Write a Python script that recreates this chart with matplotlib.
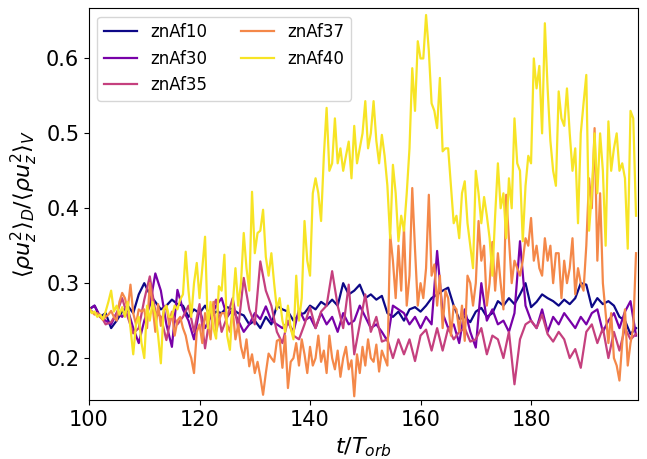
import numpy as np
import matplotlib
matplotlib.use("Agg")
import matplotlib.pyplot as plt

# time grids (fine for the two noisy runs, coarse for the others)
t_fine = np.arange(100, 199.01, 0.5)
t_coarse = np.arange(100, 199.01, 1.0)

znAf10 = [0.265, 0.27, 0.255, 0.26, 0.24, 0.25, 0.262, 0.27, 0.26, 0.285,
          0.3, 0.285, 0.275, 0.265, 0.27, 0.278, 0.272, 0.27, 0.255, 0.265,
          0.26, 0.27, 0.255, 0.262, 0.26, 0.268, 0.265, 0.26, 0.257, 0.245,
          0.25, 0.24, 0.255, 0.245, 0.27, 0.265, 0.262, 0.25, 0.258, 0.26,
          0.27, 0.265, 0.275, 0.27, 0.278, 0.27, 0.3, 0.285, 0.29, 0.298,
          0.28, 0.285, 0.278, 0.283, 0.26, 0.255, 0.262, 0.25, 0.265, 0.268,
          0.262, 0.27, 0.28, 0.285, 0.29, 0.294, 0.27, 0.252, 0.255, 0.248,
          0.262, 0.267, 0.255, 0.26, 0.276, 0.27, 0.28, 0.272, 0.285, 0.3,
          0.268, 0.275, 0.285, 0.28, 0.276, 0.27, 0.278, 0.272, 0.28, 0.3,
          0.298, 0.268, 0.28, 0.272, 0.276, 0.27, 0.255, 0.25, 0.232, 0.24]

znAf30 = [0.265, 0.27, 0.255, 0.25, 0.245, 0.26, 0.255, 0.265, 0.24, 0.22,
          0.25, 0.27, 0.313, 0.29, 0.245, 0.215, 0.291, 0.265, 0.25, 0.225,
          0.265, 0.24, 0.255, 0.27, 0.28, 0.255, 0.265, 0.25, 0.235, 0.245,
          0.26, 0.252, 0.269, 0.25, 0.245, 0.24, 0.248, 0.235, 0.265, 0.25,
          0.255, 0.24, 0.26, 0.245, 0.255, 0.235, 0.26, 0.245, 0.25, 0.27,
          0.255, 0.24, 0.245, 0.235, 0.223, 0.27, 0.265, 0.26, 0.245, 0.255,
          0.24, 0.255, 0.245, 0.343, 0.26, 0.24, 0.245, 0.22, 0.265, 0.235,
          0.214, 0.3, 0.25, 0.265, 0.245, 0.25, 0.235, 0.26, 0.356, 0.27,
          0.25, 0.24, 0.265, 0.235, 0.255, 0.245, 0.26, 0.25, 0.24, 0.255,
          0.245, 0.26, 0.265, 0.235, 0.25, 0.26, 0.24, 0.262, 0.276, 0.23]

znAf35 = [0.265, 0.26, 0.258, 0.245, 0.248, 0.26, 0.28, 0.255, 0.233, 0.24,
          0.278, 0.309, 0.262, 0.255, 0.224, 0.26, 0.245, 0.255, 0.27, 0.235,
          0.272, 0.213, 0.262, 0.278, 0.235, 0.255, 0.28, 0.24, 0.307, 0.265,
          0.245, 0.329, 0.29, 0.27, 0.235, 0.22, 0.25, 0.23, 0.225, 0.245,
          0.268, 0.24, 0.262, 0.27, 0.316, 0.27, 0.24, 0.298, 0.205, 0.245,
          0.285, 0.235, 0.255, 0.222, 0.225, 0.2, 0.225, 0.205, 0.225, 0.196,
          0.23, 0.238, 0.21, 0.24, 0.21, 0.24, 0.225, 0.235, 0.24, 0.222,
          0.225, 0.24, 0.205, 0.23, 0.225, 0.2, 0.235, 0.165, 0.225, 0.245,
          0.25, 0.24, 0.258, 0.232, 0.222, 0.235, 0.225, 0.2, 0.212, 0.187,
          0.235, 0.245, 0.22, 0.24, 0.2, 0.235, 0.21, 0.24, 0.225, 0.232]

znAf37 = [0.264, 0.262, 0.258, 0.26, 0.255, 0.251, 0.255, 0.258, 0.263, 0.255,
          0.25, 0.275, 0.287, 0.28, 0.265, 0.298, 0.26, 0.245, 0.265, 0.262,
          0.265, 0.24, 0.3, 0.27, 0.235, 0.272, 0.243, 0.262, 0.27, 0.245,
          0.262, 0.23, 0.25, 0.255, 0.24, 0.23, 0.211, 0.2, 0.18, 0.235,
          0.245, 0.22, 0.26, 0.245, 0.225, 0.275, 0.235, 0.25, 0.26, 0.26,
          0.245, 0.235, 0.265, 0.225, 0.245, 0.215, 0.2, 0.225, 0.189, 0.205,
          0.18, 0.195, 0.175, 0.151, 0.18, 0.206, 0.2, 0.195, 0.223, 0.225,
          0.187, 0.23, 0.16, 0.195, 0.2, 0.22, 0.19, 0.225, 0.205, 0.18,
          0.215, 0.19, 0.2, 0.23, 0.195, 0.21, 0.18, 0.23, 0.2, 0.185,
          0.21, 0.175, 0.2, 0.215, 0.185, 0.197, 0.149, 0.205, 0.18, 0.215,
          0.19, 0.225, 0.2, 0.195, 0.218, 0.182, 0.21, 0.2, 0.19, 0.365,
          0.33, 0.28, 0.35, 0.29, 0.374, 0.27, 0.31, 0.427, 0.345, 0.27,
          0.3, 0.28, 0.32, 0.418, 0.31, 0.325, 0.27, 0.31, 0.24, 0.29,
          0.28, 0.23, 0.27, 0.265, 0.235, 0.27, 0.223, 0.31, 0.3, 0.27,
          0.3, 0.383, 0.33, 0.35, 0.27, 0.3, 0.355, 0.29, 0.34, 0.3,
          0.265, 0.418, 0.36, 0.3, 0.33, 0.32, 0.31, 0.33, 0.36, 0.35,
          0.387, 0.33, 0.35, 0.32, 0.31, 0.36, 0.33, 0.35, 0.3, 0.34,
          0.34, 0.28, 0.33, 0.3, 0.32, 0.36, 0.285, 0.32, 0.3, 0.29,
          0.35, 0.44, 0.4, 0.507, 0.33, 0.42, 0.3, 0.26, 0.22, 0.26,
          0.2, 0.19, 0.17, 0.22, 0.265, 0.19, 0.22, 0.24, 0.34]

znAf40 = [0.267, 0.26, 0.262, 0.255, 0.258, 0.252, 0.262, 0.275, 0.29, 0.262,
          0.27, 0.258, 0.268, 0.255, 0.275, 0.24, 0.205, 0.245, 0.255, 0.22,
          0.2, 0.27, 0.25, 0.275, 0.258, 0.23, 0.193, 0.265, 0.27, 0.255,
          0.255, 0.27, 0.265, 0.278, 0.285, 0.342, 0.29, 0.255, 0.3, 0.327,
          0.28, 0.32, 0.362, 0.24, 0.275, 0.24, 0.226, 0.296, 0.29, 0.338,
          0.23, 0.211, 0.27, 0.32, 0.27, 0.3, 0.367, 0.32, 0.29, 0.422,
          0.34, 0.367, 0.37, 0.398, 0.335, 0.31, 0.34, 0.3, 0.265, 0.28,
          0.25, 0.235, 0.27, 0.24, 0.225, 0.31, 0.25, 0.28, 0.383, 0.33,
          0.31, 0.42, 0.44, 0.42, 0.383, 0.47, 0.534, 0.45, 0.46, 0.52,
          0.46, 0.48, 0.45, 0.47, 0.489, 0.44, 0.51, 0.46, 0.48, 0.5,
          0.543, 0.48, 0.5, 0.543, 0.49, 0.46, 0.498, 0.47, 0.43, 0.36,
          0.458, 0.42, 0.356, 0.39, 0.37, 0.42, 0.48, 0.587, 0.53, 0.623,
          0.6, 0.6, 0.658, 0.61, 0.54, 0.53, 0.507, 0.574, 0.476, 0.48,
          0.48, 0.43, 0.38, 0.39, 0.36, 0.42, 0.436, 0.38, 0.35, 0.32,
          0.45, 0.42, 0.38, 0.415, 0.39, 0.36, 0.31, 0.39, 0.46, 0.4,
          0.42, 0.36, 0.44, 0.4, 0.52, 0.46, 0.45, 0.356, 0.43, 0.47,
          0.46, 0.6, 0.56, 0.59, 0.5, 0.647, 0.56, 0.49, 0.45, 0.43,
          0.556, 0.52, 0.51, 0.56, 0.5, 0.45, 0.48, 0.38, 0.5, 0.54,
          0.578, 0.37, 0.42, 0.5, 0.42, 0.5, 0.45, 0.35, 0.516, 0.45,
          0.48, 0.5, 0.45, 0.46, 0.44, 0.346, 0.53, 0.52, 0.39]

runs = ["znAf10", "znAf30", "znAf35", "znAf37", "znAf40"]
series = [(t_coarse, znAf10), (t_coarse, znAf30), (t_coarse, znAf35),
          (t_fine, znAf37), (t_fine, znAf40)]

colors = plt.cm.plasma(np.linspace(0, 0.95, len(runs)))

fig = plt.figure(figsize=(6.47, 4.59), dpi=100)
ax = fig.add_axes([0.1376, 0.1285, 0.848, 0.8535])

for (t, y), name, c in zip(series, runs, colors):
    ax.plot(t, y, color=c, lw=1.6, label=name)

ax.set_xlim(100, 199.3)
ax.set_ylim(0.144, 0.667)
ax.set_xticks([100, 120, 140, 160, 180])
ax.set_yticks([0.2, 0.3, 0.4, 0.5, 0.6])
ax.tick_params(labelsize=15)
ax.set_xlabel(r'$t/T_{orb}$', fontsize=16)
ax.set_ylabel(r'$\langle\rho u_z^2\rangle_D/\langle\rho u_z^2\rangle_V$', fontsize=16)
ax.legend(ncol=2, loc='upper left', fontsize=12)

fig.savefig('out.png', dpi=100)
